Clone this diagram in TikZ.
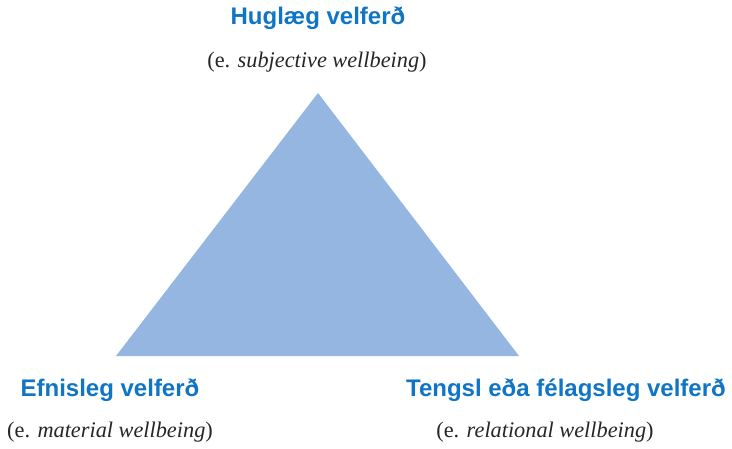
\documentclass[tikz,border=0pt]{standalone}
\usepackage{fontspec}
\setmainfont{Liberation Serif}
\setsansfont{Liberation Sans}
\usepackage{xcolor}
\definecolor{titleblue}{RGB}{16,117,196}
\definecolor{triblue}{RGB}{149,182,224}
\begin{document}
\begin{tikzpicture}[x=1pt,y=1pt]
\tikzstyle{heading}=[inner sep=0pt,text=titleblue,font=\sffamily\bfseries\fontsize{24}{28}\selectfont]
\tikzstyle{gloss}=[inner sep=0pt,text=black!85,font=\rmfamily\fontsize{22.3}{26}\selectfont]

\useasboundingbox (0,0) rectangle (732,448);

\coordinate (top) at (318,355);
\coordinate (left) at (116,92);
\coordinate (right) at (519,92);
\fill[triblue] (top) -- (left) -- (right) -- cycle;

\node[heading](hug) at (318,430){Huglæg velferð};
\node[gloss](hugs) at (317,386){(e. \textit{subjective wellbeing})};

\node[heading](efn) at (110,58){Efnisleg velferð};
\node[gloss](efns) at (110,16){(e. \textit{material wellbeing})};

\node[heading](teng) at (566,58){Tengsl eða félagsleg velferð};
\node[gloss](tengs) at (545,16){(e. \textit{relational wellbeing})};
\end{tikzpicture}
\end{document}
